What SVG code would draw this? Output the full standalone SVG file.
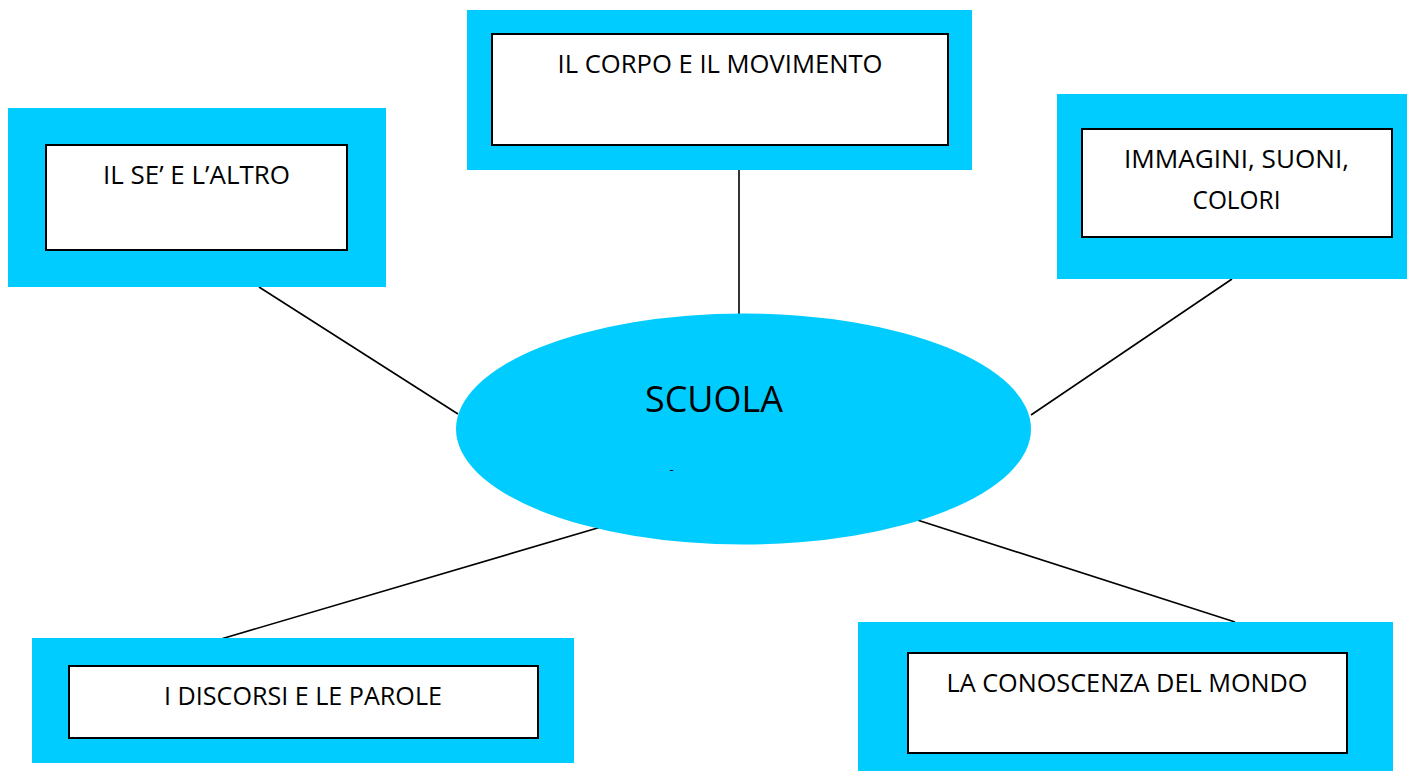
<svg xmlns="http://www.w3.org/2000/svg" width="1407" height="771" viewBox="0 0 1407 771">
<style>
.outer{fill:#00CCFF;}
.inner{fill:#FFFFFF;stroke:#000000;stroke-width:2;}
.lbl{font-family:"Open Sans","Noto Sans",sans-serif;font-size:25px;fill:#000000;text-anchor:middle;}
.conn{stroke:#000000;stroke-width:1.6;fill:none;}
</style>
<rect width="1407" height="771" fill="#FFFFFF"/>
<g id="connectors">
<line class="conn" x1="259" y1="287" x2="458" y2="414"/>
<line class="conn" x1="739" y1="170" x2="739" y2="314"/>
<line class="conn" x1="1232" y1="279" x2="1031" y2="415"/>
<line class="conn" x1="601" y1="527" x2="221" y2="639"/>
<line class="conn" x1="908" y1="517" x2="1235" y2="622"/>
</g>
<g id="scuola">
<ellipse cx="743.5" cy="429" rx="287.5" ry="115.5" fill="#00CCFF"/>
<text class="lbl" x="714" y="412" style="font-size:36px" textLength="138" lengthAdjust="spacingAndGlyphs">SCUOLA</text>
<text class="lbl" x="671.5" y="474" style="font-size:13px">-</text>
</g>
<g id="il-se-e-l-altro">
<rect class="outer" x="8" y="108" width="378" height="179"/>
<rect class="inner" x="46" y="145" width="301" height="105"/>
<text class="lbl" x="196.5" y="184" textLength="187" lengthAdjust="spacingAndGlyphs">IL SE’ E L’ALTRO</text>
</g>
<g id="il-corpo-e-il-movimento">
<rect class="outer" x="467" y="10" width="505" height="160"/>
<rect class="inner" x="492" y="34" width="456" height="111"/>
<text class="lbl" x="720" y="73" textLength="325" lengthAdjust="spacingAndGlyphs">IL CORPO E IL MOVIMENTO</text>
</g>
<g id="immagini-suoni-colori">
<rect class="outer" x="1057" y="94" width="350" height="185"/>
<rect class="inner" x="1082" y="129" width="310" height="108"/>
<text class="lbl" x="1236.5" y="168" textLength="225" lengthAdjust="spacingAndGlyphs">IMMAGINI, SUONI,</text>
<text class="lbl" x="1236.5" y="209" textLength="88" lengthAdjust="spacingAndGlyphs">COLORI</text>
</g>
<g id="i-discorsi-e-le-parole">
<rect class="outer" x="32" y="638" width="542" height="125"/>
<rect class="inner" x="69" y="666" width="469" height="72"/>
<text class="lbl" x="303" y="705" textLength="278" lengthAdjust="spacingAndGlyphs">I DISCORSI E LE PAROLE</text>
</g>
<g id="la-conoscenza-del-mondo">
<rect class="outer" x="858" y="622" width="535" height="149"/>
<rect class="inner" x="908" y="653" width="439" height="100"/>
<text class="lbl" x="1127" y="692" textLength="361" lengthAdjust="spacingAndGlyphs">LA CONOSCENZA DEL MONDO</text>
</g>
</svg>
